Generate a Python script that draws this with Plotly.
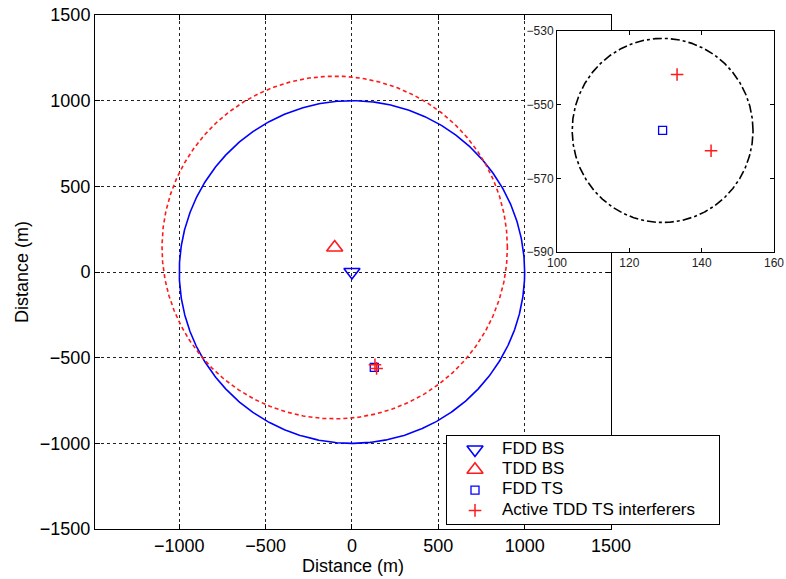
import numpy as np
import plotly.graph_objects as go

# ---- scenario geometry (metres) ----
cell_radius = 1000.0
fdd_bs_x = [0.0]
fdd_bs_y = [0.0]
tdd_bs_x = [-100.0]
tdd_bs_y = [143.0]
fdd_ts_x = [129.2]
fdd_ts_y = [-557.0]
tdd_ts_x = [133.2, 142.6]
tdd_ts_y = [-541.8, -562.5]
protection_radius = 25.0

# axis ticks
main_xticks = [-1000, -500, 0, 500, 1000, 1500]
main_yticks = [-1500, -1000, -500, 0, 500, 1000, 1500]
inset_xticks = [100, 120, 140, 160]
inset_yticks = [-590, -570, -550, -530]

# legend entries
legend_labels = ["FDD BS", "TDD BS", "FDD TS", "Active TDD TS interferers"]

W, H = 786, 579
FONT = "Liberation Sans, Arial, sans-serif"
BLUE = "#0000ff"
RED = "#ff1a1a"

# marker styles shared by the plot and the key
STYLES = [
    dict(symbol="triangle-down-open", size=14, color=BLUE, line=dict(width=1.6, color=BLUE)),
    dict(symbol="triangle-up-open", size=14, color=RED, line=dict(width=1.6, color=RED)),
    dict(symbol="square-open", size=8, color=BLUE, line=dict(width=1.3, color=BLUE)),
    dict(symbol="cross-thin-open", size=9, color=RED, line=dict(width=1.5, color=RED)),
]


def circle(cx, cy, r, n=721):
    t = np.linspace(0, 2 * np.pi, n)
    return cx + r * np.cos(t), cy + r * np.sin(t)


fig = go.Figure()

# coverage areas of the two base stations
bx, by = circle(fdd_bs_x[0], fdd_bs_y[0], cell_radius)
fig.add_trace(go.Scatter(x=bx, y=by, mode="lines", hoverinfo="skip",
                         line=dict(color=BLUE, width=1.6)))
rx, ry = circle(tdd_bs_x[0], tdd_bs_y[0], cell_radius)
fig.add_trace(go.Scatter(x=rx, y=ry, mode="lines", hoverinfo="skip",
                         line=dict(color=RED, width=1.6, dash="4px,3px")))

# stations and terminals
point_sets = [(fdd_bs_x, fdd_bs_y), (tdd_bs_x, tdd_bs_y), (fdd_ts_x, fdd_ts_y),
              (tdd_ts_x, tdd_ts_y)]
for (px, py), label, style in zip(point_sets, legend_labels, STYLES):
    fig.add_trace(go.Scatter(x=px, y=py, mode="markers", name=label, marker=style))

# white backing panel behind the zoomed view
fig.add_trace(go.Scatter(x=[-0.1, 1.1, 1.1, -0.1, -0.1], y=[-0.1, -0.1, 1.1, 1.1, -0.1],
                         xaxis="x2", yaxis="y2", mode="lines", fill="toself",
                         fillcolor="white", line=dict(color="white", width=0),
                         hoverinfo="skip"))

# zoomed view around the FDD terminal
ix, iy = circle(fdd_ts_x[0], fdd_ts_y[0], protection_radius)
fig.add_trace(go.Scatter(x=ix, y=iy, xaxis="x3", yaxis="y3", mode="lines",
                         hoverinfo="skip", line=dict(color="black", width=1.6, dash="dashdot")))
for (px, py), style in zip(point_sets[2:], STYLES[2:]):
    fig.add_trace(go.Scatter(x=px, y=py, xaxis="x3", yaxis="y3", mode="markers",
                             marker=style))

# key box (its own small axes so it sits on top of the grid)
KEY_W, KEY_H = 272, 88
row_y = [13.5 + 20.3 * i for i in range(len(legend_labels))]
fig.add_trace(go.Scatter(x=[0, KEY_W, KEY_W, 0, 0], y=[0, 0, KEY_H, KEY_H, 0],
                         xaxis="x4", yaxis="y4", mode="lines", fill="toself",
                         fillcolor="white", line=dict(color="white", width=0),
                         hoverinfo="skip"))
for ry_, style in zip(row_y, STYLES):
    fig.add_trace(go.Scatter(x=[28], y=[ry_], xaxis="x4", yaxis="y4", mode="markers",
                             marker=style, hoverinfo="skip", cliponaxis=False))
fig.add_trace(go.Scatter(x=[55] * len(legend_labels), y=row_y, xaxis="x4", yaxis="y4",
                         mode="text", text=legend_labels, textposition="middle right",
                         textfont=dict(size=17, family=FONT, color="black"),
                         hoverinfo="skip", cliponaxis=False))

grid = dict(showgrid=True, gridcolor="#222222", gridwidth=1, griddash="3px,3px",
            zeroline=False, showline=True, linecolor="black", linewidth=1,
            mirror="ticks", ticks="inside", ticklen=5, tickcolor="black", automargin=False,
            tickfont=dict(size=18, color="black", family=FONT))

inset = dict(showgrid=False, zeroline=False, showline=True, linecolor="black",
             linewidth=1, mirror="ticks", ticks="inside", ticklen=4, tickcolor="black",
             automargin=False, ticklabeloverflow="allow",
             tickfont=dict(size=12, color="#222222", family=FONT))

key_axis = dict(showgrid=False, zeroline=False, showline=True, linecolor="black",
                linewidth=1, mirror=True, ticks="", showticklabels=False, automargin=False)

fig.update_layout(
    width=W, height=H,
    margin=dict(l=0, r=0, t=0, b=0),
    paper_bgcolor="white", plot_bgcolor="white",
    font=dict(family=FONT, color="black"),
    showlegend=False,
    xaxis=dict(domain=[95 / W, 611 / W], range=[-1488, 1500], tickvals=main_xticks,
               title=dict(text="Distance (m)", font=dict(size=18), standoff=2),
               anchor="y", **grid),
    yaxis=dict(domain=[1 - 529 / H, 1 - 15 / H], range=[-1500, 1500], tickvals=main_yticks,
               title=dict(text="Distance (m)", font=dict(size=18), standoff=6),
               anchor="x", **grid),
    xaxis2=dict(domain=[526 / W, 1.0], range=[0, 1], visible=False, anchor="y2"),
    yaxis2=dict(domain=[1 - 253 / H, 1 - 31 / H], range=[0, 1], visible=False, anchor="x2"),
    xaxis3=dict(domain=[557 / W, 774 / W], range=[100, 160], tickvals=inset_xticks,
                anchor="y3", **inset),
    yaxis3=dict(domain=[1 - 252 / H, 1 - 31 / H], range=[-590, -530], tickvals=inset_yticks,
                anchor="x3", **inset),
    xaxis4=dict(domain=[447 / W, 719 / W], range=[0, KEY_W], anchor="y4", **key_axis),
    yaxis4=dict(domain=[1 - 524 / H, 1 - 436 / H], range=[KEY_H, 0], anchor="x4", **key_axis),
)

fig.write_html("out.html")
